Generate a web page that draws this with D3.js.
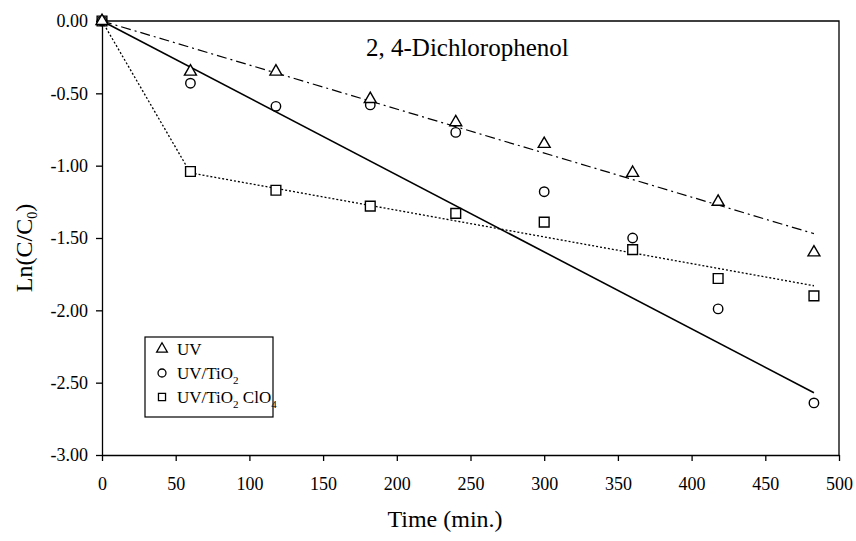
<!DOCTYPE html>
<html>
<head>
<meta charset="utf-8">
<script src="https://cdnjs.cloudflare.com/ajax/libs/d3/7.8.5/d3.min.js"></script>
<style>
  body { margin: 0; background: #fff; }
  text { font-family: "Liberation Serif", "Times New Roman", serif; fill: #000; }
</style>
</head>
<body>
<div id="chart"></div>
<script>
// sampling times (min.)
var times = [0, 60, 118, 182, 240, 300, 360, 418, 483]
// ln(C/C0) for each run
var uvValues = [0, -0.35, -0.35, -0.54, -0.70, -0.85, -1.05, -1.25, -1.60]
var tio2Values = [0, -0.43, -0.59, -0.58, -0.77, -1.18, -1.50, -1.99, -2.64]
var clo4Values = [0, -1.04, -1.17, -1.28, -1.33, -1.39, -1.58, -1.78, -1.90]
// fitted lines as [time, value]
var uvFit = [[0, 0], [483, -1.47]]
var tio2Fit = [[0, 0], [483, -2.57]]
var clo4Fit = [[0, 0], [60, -1.05], [483, -1.83]]

var xTicks = [0, 50, 100, 150, 200, 250, 300, 350, 400, 450, 500]
var yTicks = [0, -0.5, -1, -1.5, -2, -2.5, -3]

var margin = {top: 21, right: 17, bottom: 86, left: 102},
    width = 856 - margin.left - margin.right,
    height = 541 - margin.top - margin.bottom;

var x = d3.scaleLinear().domain([0, 500]).range([0, width])
var y = d3.scaleLinear().domain([-3, 0]).range([height, 0])

var svg = d3.select("#chart").append("svg")
    .attr("width", 856)
    .attr("height", 541)
  .append("g")
    .attr("transform", "translate(" + margin.left + "," + margin.top + ")");

// frame (top + right side)
svg.append("path")
  .attr("d", "M0,0H" + width + "V" + height)
  .attr("fill", "none")
  .attr("stroke", "#000")
  .attr("stroke-width", 1.3)

// axes
var xAxis = svg.append("g")
  .attr("transform", "translate(0," + height + ")")
  .call(d3.axisBottom(x).tickValues(xTicks).tickSize(6).tickPadding(16).tickSizeOuter(0))
var yAxis = svg.append("g")
  .call(d3.axisLeft(y).tickValues(yTicks).tickSize(6).tickPadding(8).tickSizeOuter(0)
    .tickFormat(d3.format(".2f")))

svg.selectAll(".domain, .tick line").attr("stroke", "#000").attr("stroke-width", 1.3)
svg.selectAll(".tick text")
  .style("font-family", '"Liberation Serif", serif')
  .style("font-size", "18px")
yAxis.selectAll(".tick text").text(function(d) { return d3.format(".2f")(d).replace("−", "-") })

// fitted lines
var line = d3.line()
  .x(function(d) { return x(d[0]) })
  .y(function(d) { return y(d[1]) })

svg.append("path").datum(uvFit)
  .attr("d", line).attr("fill", "none").attr("stroke", "#000")
  .attr("stroke-width", 1.2).attr("stroke-dasharray", "10,4,2,4")
svg.append("path").datum(tio2Fit)
  .attr("d", line).attr("fill", "none").attr("stroke", "#000")
  .attr("stroke-width", 1.6)
svg.append("path").datum(clo4Fit)
  .attr("d", line).attr("fill", "none").attr("stroke", "#000")
  .attr("stroke-width", 1.3).attr("stroke-dasharray", "2,2")

// markers
var tri = d3.symbol().type(d3.symbolTriangle).size(62)
var circ = d3.symbol().type(d3.symbolCircle).size(70)
var sq = d3.symbol().type(d3.symbolSquare).size(95)

function drawPoints(values, sym, cls) {
  svg.selectAll("." + cls)
    .data(values)
    .enter()
    .append("path")
    .attr("class", cls)
    .attr("d", sym)
    .attr("transform", function(d, i) { return "translate(" + x(times[i]) + "," + y(d) + ")" })
    .attr("fill", "#fff")
    .attr("stroke", "#000")
    .attr("stroke-width", 1.4)
}
drawPoints(clo4Values, sq, "sq")
drawPoints(tio2Values, circ, "circ")
drawPoints(uvValues, tri, "tri")

// title
svg.append("text")
  .attr("x", 366 - margin.left)
  .attr("y", 56 - margin.top)
  .style("font-size", "25px")
  .text("2, 4-Dichlorophenol")

// axis labels
svg.append("text")
  .attr("x", 445 - margin.left)
  .attr("y", 527 - margin.top)
  .style("text-anchor", "middle")
  .style("font-size", "24px")
  .text("Time (min.)")

var yl = svg.append("text")
  .attr("transform", "translate(" + (32 - margin.left) + "," + (248 - margin.top) + ") rotate(-90)")
  .style("text-anchor", "middle")
  .style("font-size", "24px")
yl.append("tspan").text("Ln(C/C")
yl.append("tspan").text("0").style("font-size", "14px").attr("dy", 5)
yl.append("tspan").text(")").attr("dy", -5)

// legend
var lg = svg.append("g").attr("transform", "translate(" + (145 - margin.left) + "," + (337 - margin.top) + ")")
lg.append("rect")
  .attr("width", 128).attr("height", 80)
  .attr("fill", "#fff").attr("stroke", "#000").attr("stroke-width", 1.2)

var legendItems = [
  {sym: tri, label: ["UV"]},
  {sym: circ, label: ["UV/TiO", "2"]},
  {sym: sq, label: ["UV/TiO", "2", " ClO", "4"]}
]
legendItems.forEach(function(it, i) {
  var ry = 12 + i * 24
  lg.append("path")
    .attr("d", it.sym.size(50)())
    .attr("transform", "translate(17," + ry + ")")
    .attr("fill", "#fff").attr("stroke", "#000").attr("stroke-width", 1.3)
  var t = lg.append("text").attr("x", 32).attr("y", ry + 6).style("font-size", "17px")
  it.label.forEach(function(s, j) {
    var sp = t.append("tspan").text(s)
    if (j % 2 == 1) sp.style("font-size", "11px").attr("dy", 5)
    else if (j > 0) sp.attr("dy", -5)
  })
})
</script>
</body>
</html>
